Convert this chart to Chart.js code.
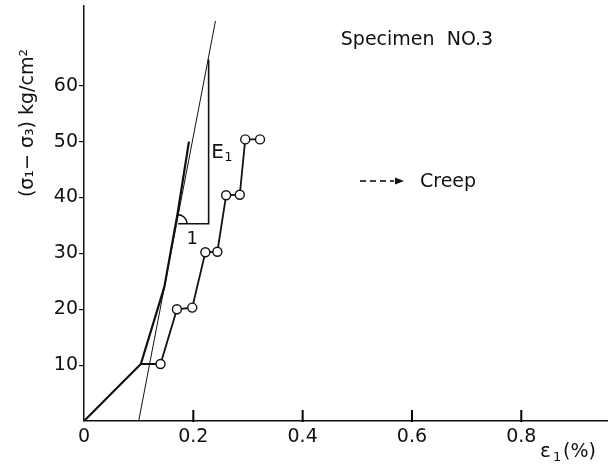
<!DOCTYPE html>
<html lang="en">
<head>
    <meta charset="UTF-8">
    <title>Specimen NO.3</title>
    <script src="https://cdn.jsdelivr.net/npm/chart.js@4.4.1/dist/chart.umd.min.js"></script>
    <style>
        html, body { margin: 0; padding: 0; background: #fff; }
        #wrap { width: 613px; height: 468px; }
    </style>
</head>
<body>
    <div id="wrap"><canvas id="chart" width="613" height="468"></canvas></div>

    <script>
        // tick labels
        const xTicks = [0, 0.2, 0.4, 0.6, 0.8];
        const yTicks = [10, 20, 30, 40, 50, 60];

        // bilinear loading curve (bold)
        const curveX = [0, 0.104, 0.147, 0.171, 0.192];
        const curveY = [0, 10.2, 24, 37, 50];

        // tangent line (thin)
        const tangentX = [0.1, 0.2405];
        const tangentY = [0, 71.6];

        // slope triangle
        const triX = [0.172, 0.228, 0.228];
        const triY = [35.3, 35.3, 64.7];

        // creep steps (first point = start of creep at the knee, no marker)
        const creepX = [0.104, 0.14, 0.17, 0.198, 0.222, 0.244, 0.26, 0.285, 0.295, 0.322];
        const creepY = [10.2, 10.2, 20, 20.3, 30.2, 30.3, 40.4, 40.5, 50.4, 50.4];

        const pts = (xs, ys) => xs.map((x, i) => ({ x: x, y: ys[i] }));
        const FONT = 'DejaVu Sans';

        // inward x ticks, angle mark and text labels
        const extras = {
            id: 'extras',
            afterDraw(chart) {
                const ctx = chart.ctx;
                const xs = chart.scales.x, ys = chart.scales.y;
                const y0 = chart.chartArea.bottom;
                ctx.save();
                ctx.strokeStyle = '#000';
                ctx.fillStyle = '#111';

                // x ticks pointing up into the plot
                ctx.lineWidth = 2;
                for (let i = 1; i < xTicks.length; i++) {
                    const px = xs.getPixelForValue(xTicks[i]);
                    ctx.beginPath();
                    ctx.moveTo(px, y0 + 1);
                    ctx.lineTo(px, y0 - 11);
                    ctx.stroke();
                }

                // angle arc at the triangle corner
                const cx = xs.getPixelForValue(triX[0]);
                const cy = ys.getPixelForValue(triY[0]);
                const ang = Math.atan2(ys.getPixelForValue(tangentY[1]) - ys.getPixelForValue(tangentY[0]),
                                       xs.getPixelForValue(tangentX[1]) - xs.getPixelForValue(tangentX[0]));
                ctx.lineWidth = 1.5;
                ctx.beginPath();
                ctx.arc(cx, cy, 9, ang - 0.3, 0);
                ctx.stroke();

                // E1 and 1 beside the triangle
                ctx.textBaseline = 'middle';
                ctx.textAlign = 'left';
                let ex = xs.getPixelForValue(0.233), ey = ys.getPixelForValue(48);
                ctx.font = '20px ' + FONT;
                ctx.fillText('E', ex, ey);
                ctx.font = '13px ' + FONT;
                ctx.fillText('1', ex + 13, ey + 5);
                ctx.font = '18px ' + FONT;
                ctx.textAlign = 'center';
                ctx.fillText('1', xs.getPixelForValue(0.198), ys.getPixelForValue(32.6));

                // title text
                ctx.font = '19px ' + FONT;
                ctx.textAlign = 'center';
                ctx.fillText('Specimen  NO.3', 417, 40);

                // creep key
                ctx.lineWidth = 1.3;
                ctx.setLineDash([6, 4]);
                ctx.beginPath();
                ctx.moveTo(360, 181);
                ctx.lineTo(394, 181);
                ctx.stroke();
                ctx.setLineDash([]);
                ctx.beginPath();
                ctx.moveTo(404, 181);
                ctx.lineTo(395, 177.5);
                ctx.lineTo(395, 184.5);
                ctx.closePath();
                ctx.fill();
                ctx.textAlign = 'left';
                ctx.font = '19px ' + FONT;
                ctx.fillText('Creep', 420, 182);

                // x axis title
                ctx.font = '20px ' + FONT;
                ctx.fillText('\u03b5', 540, 452);
                ctx.font = '13px ' + FONT;
                ctx.fillText('1', 553, 458);
                ctx.font = '19px ' + FONT;
                ctx.fillText('(%)', 563, 452);

                // y axis title
                ctx.translate(28, 123);
                ctx.rotate(-Math.PI / 2);
                ctx.textAlign = 'center';
                ctx.font = '19px ' + FONT;
                ctx.fillText('(\u03c3\u2081\u2212 \u03c3\u2083) kg/cm\u00b2', 0, 0);
                ctx.restore();
            }
        };

        new Chart(document.getElementById('chart'), {
            type: 'line',
            data: {
                datasets: [
                    {
                        data: pts(curveX, curveY),
                        borderColor: '#111',
                        borderWidth: 2.2,
                        pointRadius: 0,
                        tension: 0
                    },
                    {
                        data: pts(tangentX, tangentY),
                        borderColor: '#111',
                        borderWidth: 1,
                        pointRadius: 0
                    },
                    {
                        data: pts(triX, triY),
                        borderColor: '#111',
                        borderWidth: 1.6,
                        pointRadius: 0
                    },
                    {
                        data: pts(creepX, creepY),
                        borderColor: '#111',
                        borderWidth: 1.8,
                        pointRadius: creepX.map((v, i) => i === 0 ? 0 : 4.5),
                        pointBackgroundColor: '#fff',
                        pointBorderColor: '#111',
                        pointBorderWidth: 1.4
                    }
                ]
            },
            options: {
                responsive: false,
                devicePixelRatio: 1,
                animation: false,
                layout: { padding: { top: 5, right: 0, left: 0, bottom: 0 } },
                plugins: {
                    legend: { display: false },
                    tooltip: { enabled: false }
                },
                scales: {
                    x: {
                        type: 'linear',
                        min: 0,
                        max: 0.957,
                        afterBuildTicks: s => { s.ticks = xTicks.map(v => ({ value: v })); },
                        afterFit: s => { s.height = 47; s.paddingRight = 0; },
                        grid: { display: false },
                        border: { display: true, color: '#111', width: 1.5 },
                        ticks: {
                            color: '#111',
                            font: { family: FONT, size: 19 },
                            padding: -3,
                            maxRotation: 0,
                            autoSkip: false,
                            callback: v => String(v)
                        }
                    },
                    y: {
                        type: 'linear',
                        min: 0,
                        max: 74.3,
                        afterBuildTicks: s => { s.ticks = yTicks.map(v => ({ value: v })); },
                        afterFit: s => { s.width = 84; s.paddingTop = 0; s.paddingBottom = 0; },
                        grid: { drawOnChartArea: false, tickLength: 5, color: '#111', lineWidth: 1.2 },
                        border: { display: true, color: '#111', width: 1.5 },
                        ticks: {
                            color: '#111',
                            font: { family: FONT, size: 19 },
                            padding: 1,
                            autoSkip: false,
                            callback: v => String(v)
                        }
                    }
                }
            },
            plugins: [extras]
        });
    </script>
</body>
</html>
